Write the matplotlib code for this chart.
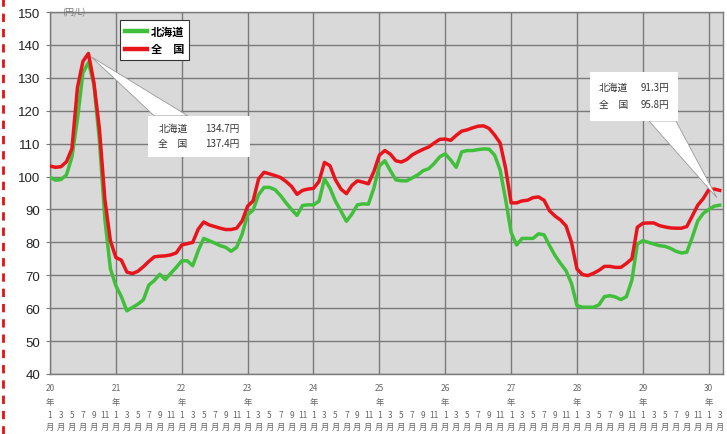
import matplotlib
matplotlib.use("Agg")
import matplotlib.pyplot as plt
from matplotlib.patches import Polygon, Rectangle
from matplotlib.lines import Line2D
import numpy as np

plt.rcParams['font.family'] = ['Noto Sans CJK JP', 'DejaVu Sans']

# Monthly kerosene price (円/L), 平成20年1月 - 平成30年3月
hokkaido = [
    99.8, 98.9, 99.1, 100.5, 106.0, 117.5, 131.5, 134.7, 128.0, 111.0, 87.0, 72.0,   # H20
    66.8, 63.5, 59.2, 60.2, 61.2, 62.5, 67.0, 68.4, 70.3, 68.7, 70.6, 72.4,         # H21
    74.4, 74.4, 72.9, 77.5, 81.2, 80.5, 79.8, 79.0, 78.5, 77.3, 78.5, 82.5,         # H22
    88.4, 89.8, 94.5, 96.7, 96.7, 96.0, 94.2, 92.0, 90.0, 88.2, 91.2, 91.4,         # H23
    91.4, 92.5, 99.3, 96.5, 92.5, 89.5, 86.4, 88.6, 91.4, 91.7, 91.6, 96.5,         # H24
    103.2, 104.8, 101.8, 99.0, 98.7, 98.7, 99.6, 100.5, 101.8, 102.4, 104.0, 106.0, # H25
    106.9, 105.0, 102.8, 107.5, 107.9, 107.9, 108.2, 108.4, 108.3, 106.5, 102.0, 93.0,  # H26
    83.0, 79.2, 81.2, 81.2, 81.2, 82.6, 82.3, 79.0, 76.0, 73.6, 71.4, 67.5,         # H27
    60.8, 60.3, 60.3, 60.3, 61.0, 63.5, 63.8, 63.4, 62.6, 63.5, 68.5, 79.5,         # H28
    80.5, 80.0, 79.5, 79.0, 78.8, 78.2, 77.3, 76.8, 77.0, 81.5, 86.5, 88.8,         # H29
    90.0, 91.0, 91.3,                                                               # H30
]
zenkoku = [
    103.2, 102.8, 103.0, 104.5, 108.5, 127.0, 135.0, 137.4, 128.5, 114.5, 93.0, 80.5,  # H20
    75.4, 74.6, 71.0, 70.5, 71.2, 72.6, 74.2, 75.6, 75.8, 75.9, 76.2, 76.8,        # H21
    79.2, 79.6, 80.0, 84.0, 86.2, 85.3, 84.8, 84.3, 83.9, 83.9, 84.3, 86.5,        # H22
    91.0, 92.6, 99.3, 101.3, 100.8, 100.3, 99.7, 98.5, 97.0, 94.6, 95.8, 96.2,     # H23
    96.4, 98.5, 104.3, 103.3, 99.0, 96.2, 94.8, 97.3, 98.7, 98.3, 97.8, 101.5,     # H24
    106.5, 107.9, 106.8, 104.8, 104.4, 105.2, 106.6, 107.5, 108.3, 109.0, 110.2, 111.3,  # H25
    111.4, 111.0, 112.5, 113.8, 114.2, 114.8, 115.3, 115.4, 114.6, 112.6, 110.2, 102.5,  # H26
    92.0, 92.0, 92.6, 92.8, 93.6, 93.8, 92.8, 89.6, 88.0, 86.8, 85.0, 80.0,        # H27
    71.9, 70.2, 69.9, 70.6, 71.5, 72.7, 72.7, 72.4, 72.4, 73.6, 75.0, 84.6,        # H28
    85.8, 85.9, 85.9, 85.1, 84.7, 84.4, 84.3, 84.3, 84.8, 88.0, 91.3, 93.3,        # H29
    96.0, 96.2, 95.8,                                                              # H30
]
years = ['20', '21', '22', '23', '24', '25', '26', '27', '28', '29', '30']
month_labels = ['1', '3', '5', '7', '9', '11']
series_names = ['北海道', '全　国']

GREEN = '#3fbf3a'
RED = '#e8141c'
GRID = '#7a7a7a'
TXT = '#333333'

n = len(zenkoku)
x = np.arange(n)

fig = plt.figure(figsize=(7.27, 4.35), dpi=100)
ax = fig.add_axes([50 / 727, 1 - 375 / 435, 673 / 727, 362 / 435])
ax.set_facecolor('#d9d9d9')

ax.plot(x, hokkaido, color=GREEN, lw=2.5, solid_joinstyle='round', zorder=3)
ax.plot(x, zenkoku, color=RED, lw=2.5, solid_joinstyle='round', zorder=4)

ax.set_xlim(0, n - 1 + 0.6)
ax.set_ylim(40, 150)
ax.set_yticks(np.arange(40, 151, 10))
ax.set_xticks(np.arange(0, n, 12))
ax.set_xticklabels([])
ax.grid(True, color=GRID, lw=1.0, zorder=1)
ax.tick_params(axis='y', length=3, color=GRID, labelsize=9.5, labelcolor='#222222', pad=4)
ax.tick_params(axis='x', length=0)
for lbl in ax.get_yticklabels():
    lbl.set_family(['Liberation Sans Narrow', 'Liberation Sans', 'DejaVu Sans'])
for s in ax.spines.values():
    s.set_color(GRID)
    s.set_linewidth(1.0)

# unit label next to the top tick
ax.text(0.018, 1.0, '(円/L)', transform=ax.transAxes, fontsize=6.5, color='#777777',
        ha='left', va='center')

# month / year labels below the axis
trans = ax.get_xaxis_transform()
for k, yr in enumerate(years):
    ax.text(k * 12, -0.036, yr, transform=trans, ha='center', va='center',
            fontsize=6, color='#666666')
    ax.text(k * 12, -0.075, '年', transform=trans, ha='center', va='center',
            fontsize=6, color='#666666')
for i in range(0, n, 2):
    ax.text(i, -0.112, month_labels[(i % 12) // 2], transform=trans, ha='center',
            va='center', fontsize=6, color='#666666')
    ax.text(i, -0.145, '月', transform=trans, ha='center', va='center',
            fontsize=6, color='#666666')

# legend
handles = [Line2D([], [], color=GREEN, lw=3.2), Line2D([], [], color=RED, lw=3.2)]
leg = ax.legend(handles, series_names, loc='upper left', bbox_to_anchor=(0.104, 0.978),
                frameon=True, fancybox=False, edgecolor='#333333', framealpha=1,
                fontsize=8, handlelength=2.0, handletextpad=0.3, borderpad=0.45,
                labelspacing=0.4, borderaxespad=0)
leg.get_frame().set_linewidth(0.8)
for t in leg.get_texts():
    t.set_fontweight('bold')
leg.set_zorder(6)

to_axes = ax.transData + ax.transAxes.inverted()


def callout(box, base, apex_data, rows):
    x0, y0, x1, y1 = box
    apex = to_axes.transform(apex_data)
    wedge = Polygon([base[0], base[1], apex], closed=True, transform=ax.transAxes,
                    facecolor='white', edgecolor='#9a9a9a', lw=0.6, zorder=7)
    ax.add_patch(wedge)
    rect = Rectangle((x0, y0), x1 - x0, y1 - y0, transform=ax.transAxes,
                     facecolor='white', edgecolor='none', zorder=8)
    ax.add_patch(rect)
    ys = [y1 - (y1 - y0) * 0.3, y1 - (y1 - y0) * 0.66]
    for (name, val), yy in zip(rows, ys):
        ax.text(x0 + (x1 - x0) * 0.1, yy, name, transform=ax.transAxes, ha='left',
                va='center', fontsize=7, color=TXT, zorder=9)
        ax.text(x0 + (x1 - x0) * 0.9, yy, f'{val:.1f}円', transform=ax.transAxes,
                ha='right', va='center', fontsize=7, color=TXT, zorder=9)


peak = int(np.argmax(zenkoku))
callout((0.146, 0.599, 0.297, 0.713),
        [(0.155, 0.713), (0.205, 0.713)],
        (peak + 0.5, zenkoku[peak] - 1.0),
        [(series_names[0], hokkaido[peak]), (series_names[1], zenkoku[peak])])

last = n - 1
callout((0.802, 0.699, 0.933, 0.834),
        [(0.890, 0.699), (0.930, 0.699)],
        (last - 0.5, (hokkaido[last] + zenkoku[last]) / 2),
        [(series_names[0], hokkaido[last]), (series_names[1], zenkoku[last])])

# dashed red frame on the left edge of the page
fig.add_artist(Line2D([0.004, 0.004], [0.0, 1.0], transform=fig.transFigure,
                      color='#e81010', lw=2.0, ls=(0, (3, 2.5))))

fig.savefig('out.png', dpi=100)
